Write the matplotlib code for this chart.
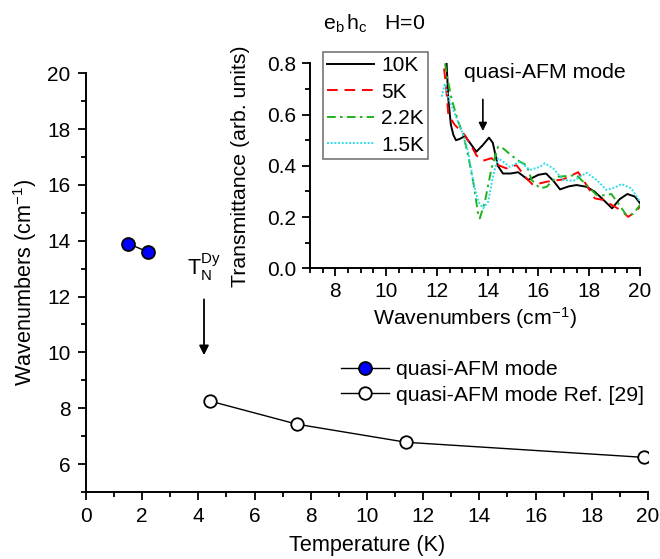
import matplotlib
matplotlib.use("Agg")
import matplotlib.pyplot as plt
from matplotlib.ticker import MultipleLocator

plt.rcParams['font.family'] = ['Liberation Sans', 'DejaVu Sans']
plt.rcParams['mathtext.fontset'] = 'custom'
plt.rcParams['mathtext.rm'] = 'Liberation Sans'
plt.rcParams['mathtext.it'] = 'Liberation Sans'

# ---- main panel data ----
temp_meas = [1.5, 2.2]
wn_meas = [13.9, 13.6]
temp_ref = [4.4, 7.5, 11.4, 19.85]
wn_ref = [8.26, 7.43, 6.78, 6.24]

# ---- inset spectra ----
x_10K = [12.38, 12.45, 12.55, 12.65, 12.75, 12.9, 13.1, 13.3, 13.55, 13.8, 14.05, 14.2,
         14.4, 14.6, 14.9, 15.2, 15.6, 16.0, 16.3, 16.6, 16.85, 17.2, 17.5, 17.9, 18.2,
         18.5, 18.9, 19.2, 19.5, 19.8, 20.0]
y_10K = [0.80, 0.66, 0.56, 0.52, 0.50, 0.505, 0.516, 0.49, 0.455, 0.48, 0.51, 0.49,
         0.40, 0.37, 0.37, 0.375, 0.345, 0.365, 0.37, 0.34, 0.308, 0.32, 0.325, 0.318, 0.30,
         0.273, 0.234, 0.27, 0.29, 0.28, 0.254]
x_5K = [12.28, 12.35, 12.45, 12.7, 13.1, 13.37, 13.56, 13.82, 14.15, 14.41, 14.74, 15.13,
        15.53, 15.79, 16.32, 16.97, 17.56, 17.69, 18.22, 18.55, 19.27, 19.53, 19.75, 20.0]
y_5K = [0.78, 0.72, 0.60, 0.56, 0.52, 0.475, 0.44, 0.42, 0.43, 0.403, 0.39, 0.403,
        0.351, 0.325, 0.338, 0.347, 0.375, 0.357, 0.273, 0.267, 0.225, 0.201, 0.215, 0.24]
x_22K = [12.32, 12.4, 12.58, 12.84, 13.04, 13.23, 13.43, 13.63, 13.69, 13.89, 14.15, 14.41,
         14.61, 14.94, 15.27, 15.53, 15.73, 16.06, 16.32, 16.71, 17.1, 17.5, 17.76, 18.29,
         18.6, 18.87, 19.14, 19.46, 19.73, 20.0]
y_22K = [0.80, 0.75, 0.66, 0.572, 0.52, 0.44, 0.338, 0.208, 0.195, 0.26, 0.39, 0.475,
         0.468, 0.44, 0.416, 0.403, 0.345, 0.312, 0.318, 0.357, 0.36, 0.364, 0.338, 0.286,
         0.285, 0.29, 0.254, 0.208, 0.212, 0.247]
x_15K = [12.19, 12.31, 12.51, 12.78, 13.04, 13.23, 13.43, 13.63, 13.82, 14.02, 14.22, 14.41,
         14.61, 14.87, 15.27, 15.66, 16.06, 16.25, 16.58, 16.97, 17.37, 17.89, 18.29, 18.68,
         19.0, 19.27, 19.66, 20.0]
y_15K = [0.67, 0.72, 0.65, 0.585, 0.52, 0.455, 0.338, 0.26, 0.234, 0.26, 0.364, 0.43,
         0.416, 0.396, 0.416, 0.384, 0.396, 0.41, 0.39, 0.345, 0.341, 0.373, 0.345, 0.306,
         0.315, 0.329, 0.312, 0.26]

fig = plt.figure(figsize=(6.6, 5.59), dpi=100)

# ---------------- main axes ----------------
ax = fig.add_axes([0.1303, 0.1199, 0.8515, 0.749])
ax.plot(temp_meas, wn_meas, '-', color='black', lw=1, marker='o', ms=9.3,
        mfc='#0000ff', mec='black', mew=1.3, label='quasi-AFM mode')
ax.plot(temp_ref, wn_ref, '-', color='black', lw=1, marker='o', ms=9,
        mfc='white', mec='black', mew=1.3, label='quasi-AFM mode Ref. [29]')
ax.set_xlim(0, 20)
ax.set_ylim(5, 20)
ax.xaxis.set_major_locator(MultipleLocator(2))
ax.xaxis.set_minor_locator(MultipleLocator(1))
ax.yaxis.set_minor_locator(MultipleLocator(1))
ax.set_yticks([6, 8, 10, 12, 14, 16, 18, 20])
for s in ['top', 'right']:
    ax.spines[s].set_visible(False)
for s in ['left', 'bottom']:
    ax.spines[s].set_linewidth(1.4)
ax.tick_params(which='major', direction='out', length=6, width=1.3, labelsize=15, pad=5)
ax.tick_params(which='minor', direction='out', length=3.5, width=1.3)
ax.set_xlabel('Temperature (K)', fontsize=15.6, labelpad=6)
ax.set_ylabel('Wavenumbers (cm$^{-1}$)', fontsize=15.6, labelpad=6)
leg = ax.legend(loc='upper left', bbox_to_anchor=(0.447, 0.325), frameon=False,
                fontsize=15.3, handlelength=2.25, handletextpad=0.33, labelspacing=0.3,
                borderpad=0.2, borderaxespad=0)

ax.annotate('', xy=(4.2, 9.8), xytext=(4.2, 12.0),
            arrowprops=dict(arrowstyle='-|>', color='black', lw=1.3, mutation_scale=14))
ax.text(4.2, 13.05, r'$\mathregular{T_N^{Dy}}$', fontsize=15.5, ha='center', va='center')

# ---------------- inset ----------------
ins = fig.add_axes([0.4697, 0.52, 0.5, 0.3667])
ins.plot(x_10K, y_10K, '-', color='black', lw=1.4, label='10K')
ins.plot(x_5K, y_5K, '--', color='#ff0000', lw=1.4, dashes=(5.5, 3.5), label='5K')
ins.plot(x_22K, y_22K, '-.', color='#1db31d', lw=1.4, dashes=(4.5, 2.2, 1.3, 2.2), label='2.2K')
ins.plot(x_15K, y_15K, ':', color='#2fdcec', lw=1.4, dashes=(1, 0.9), label='1.5K')
ins.set_xlim(7, 20)
ins.set_ylim(0, 0.8)
ins.xaxis.set_minor_locator(MultipleLocator(0.5))
ins.set_xticks([8, 10, 12, 14, 16, 18, 20])
ins.yaxis.set_major_locator(MultipleLocator(0.2))
ins.yaxis.set_minor_locator(MultipleLocator(0.1))
ins.patch.set_alpha(0)
for s in ['top', 'right']:
    ins.spines[s].set_visible(False)
for s in ['left', 'bottom']:
    ins.spines[s].set_linewidth(1.4)
ins.tick_params(which='major', direction='out', length=6, width=1.3, labelsize=15, pad=4)
ins.tick_params(which='minor', direction='out', length=3.5, width=1.3)
ins.set_xlabel('Wavenumbers (cm$^{-1}$)', fontsize=15.3, labelpad=3)
ins.set_ylabel('Transmittance (arb. units)', fontsize=15.3, labelpad=12)
lg2 = ins.legend(loc='upper left', bbox_to_anchor=(0.04, 1.055), frameon=True, fancybox=False,
                 fontsize=15, handlelength=2.25, handletextpad=0.33, labelspacing=0.36,
                 borderpad=0.2, borderaxespad=0)
lg2.get_frame().set_edgecolor('#555555')
lg2.get_frame().set_linewidth(1.2)

ins.annotate('', xy=(13.81, 0.525), xytext=(13.81, 0.67),
             arrowprops=dict(arrowstyle='-|>', color='black', lw=1.2, mutation_scale=12))
ins.text(13.06, 0.766, 'quasi-AFM mode', fontsize=15.3, ha='left', va='center')
ins.text(7.5, 0.93, r'$\mathregular{e_b\,h_c}$   H=0', fontsize=15.3, ha='left',
         va='baseline', clip_on=False)

fig.savefig('out.png', dpi=100)
